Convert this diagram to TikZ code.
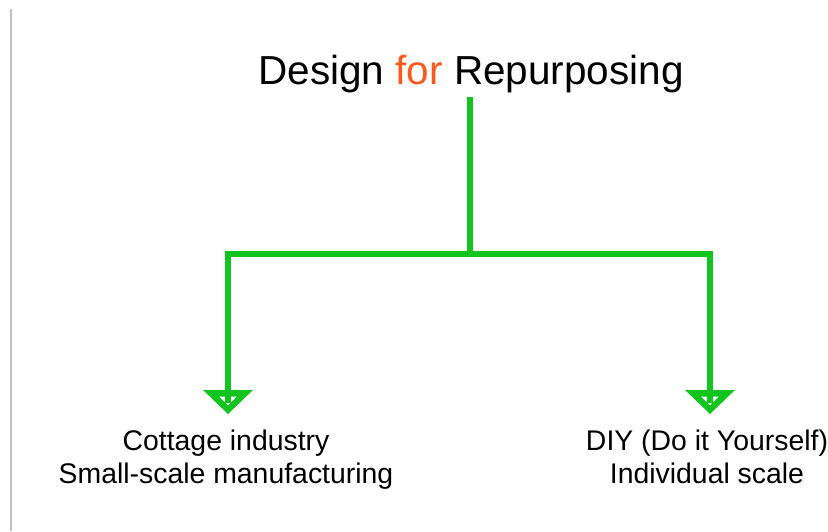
\documentclass[tikz,border=0pt]{standalone}
\usepackage{fontspec}
\setmainfont{Liberation Sans}
\usepackage{xcolor}
\usetikzlibrary{calc}
\definecolor{branchgreen}{RGB}{18,196,32}
\definecolor{wordorange}{RGB}{255,88,28}
\definecolor{rulegrey}{RGB}{192,192,192}
\tikzset{>=latex}

\begin{document}
\begin{tikzpicture}[x=1pt,y=-1pt,
		branch/.style={draw=branchgreen,line width=6.5pt},
		label/.style={align=center,font=\fontsize{28.4}{33}\selectfont,inner sep=0pt}]
		\useasboundingbox (0,0) rectangle (828,531);
		\def \ybar{254};
		\def \ytip{403};
		% rule on the left
		\draw[rulegrey,line width=1.4pt] (11,9) -- (11,531);
		\node[anchor=base,inner sep=0pt,font=\fontsize{40.5}{48}\selectfont] (title) at (471,84)
			{Design \textcolor{wordorange}{for} Repurposing};
		\node[label,anchor=base] (left) at (226,483) {Cottage industry\\Small-scale manufacturing};
		\node[label,anchor=base] (right) at (707,483) {DIY (Do it Yourself)\\Individual scale};
		\coordinate (top) at (470,97);
		\coordinate (mid) at (470,\ybar);
		\coordinate (l) at (228,\ybar);
		\coordinate (r) at (710,\ybar);
		\draw[branch] (top) -- (mid);
		\draw[branch,line cap=rect] (l) -- (r);
		% hollow arrow heads
		\foreach \x in {228,710} {
			\fill[branchgreen] ({\x-25},390) -- ({\x+25},390) -- (\x,414) -- cycle;
			\fill[white] ({\x-9},396.5) -- ({\x+9},396.5) -- (\x,405) -- cycle;
			\draw[branch] (\x,\ybar) -- (\x,\ytip);
		}
	\end{tikzpicture}
\end{document}
